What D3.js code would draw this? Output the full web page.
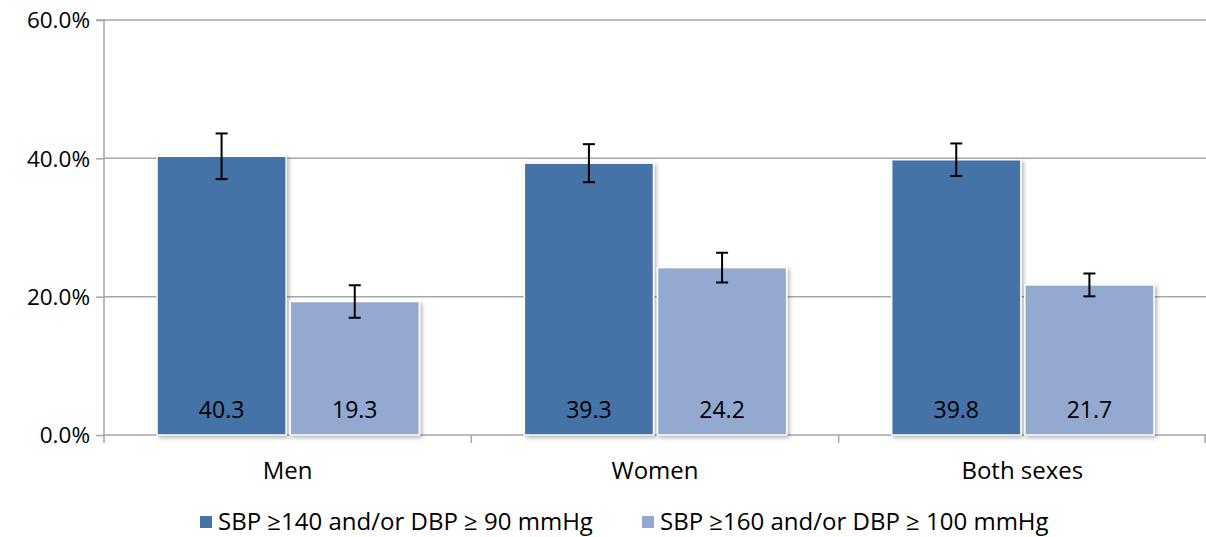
<!DOCTYPE html>
<html><head><meta charset="utf-8">
<script src="https://cdn.jsdelivr.net/npm/d3@7"></script>
<style>body{margin:0;background:#fff}svg{display:block}text{font-family:"Open Sans",sans-serif;fill:#000}</style>
</head><body><svg id="c" width="1206" height="537"></svg>
<script>
const categories = ["Men", "Women", "Both sexes"];
const seriesNames = ["SBP \u2265140 and/or DBP \u2265 90 mmHg", "SBP \u2265160 and/or DBP \u2265 100 mmHg"];
const seriesA = [40.3, 39.3, 39.8];
const seriesB = [19.3, 24.2, 21.7];
const errA = [3.3, 2.75, 2.35];
const errB = [2.35, 2.15, 1.65];
const yTicks = [0, 20, 40, 60];
const colors = ["#4572A7", "#93A9CF"];

const svg = d3.select("#c");
const m = {l:104, r:1206, t:20, b:435};
const x0 = d3.scaleBand().domain(categories).range([m.l, m.r]).paddingInner(0).paddingOuter(0);
const x1 = d3.scaleBand().domain([0,1]).range([53, x0.bandwidth()-52]).paddingInner(0.03);
const y = d3.scaleLinear().domain([0,60]).range([m.b, m.t]);

const defs = svg.append("defs");
const f = defs.append("filter").attr("id","sh").attr("x","-10%").attr("y","-10%").attr("width","130%").attr("height","130%");
f.append("feDropShadow").attr("dx",2).attr("dy",2).attr("stdDeviation",2).attr("flood-color","#000").attr("flood-opacity",0.3);

// gridlines
svg.append("g").selectAll("line").data(yTicks.filter(d=>d>0)).join("line")
  .attr("x1",m.l).attr("x2",m.r).attr("y1",d=>y(d)).attr("y2",d=>y(d))
  .attr("stroke","#a6a6a6").attr("stroke-width",1.5);

// y axis
const ya = svg.append("g").attr("transform",`translate(${m.l},0)`)
  .call(d3.axisLeft(y).tickValues(yTicks).tickSize(8).tickPadding(6).tickFormat(d=>d.toFixed(1)+"%"));
ya.select(".domain").attr("stroke","#a6a6a6").attr("stroke-width",1.5).attr("d",`M-8,${m.t}H0V${m.b}`);
ya.selectAll(".tick line").attr("stroke","#a6a6a6").attr("stroke-width",1.5);
ya.selectAll("text").attr("font-size",22.5).attr("fill","#000").style("font-family","'Open Sans',sans-serif").attr("dy","0.35em");

// x axis
const xa = svg.append("g").attr("transform",`translate(0,${m.b})`);
xa.append("line").attr("x1",m.l).attr("x2",m.r).attr("stroke","#a6a6a6").attr("stroke-width",1.5);
xa.selectAll("line.t").data(categories.concat(["end"])).join("line").attr("class","t")
  .attr("x1",(d,i)=>i<categories.length?x0(d):m.r-1).attr("x2",(d,i)=>i<categories.length?x0(d):m.r-1)
  .attr("y1",0).attr("y2",8).attr("stroke","#a6a6a6").attr("stroke-width",1.5);
xa.selectAll("text").data(categories).join("text")
  .attr("x",d=>x0(d)+x0.bandwidth()/2).attr("y",44).attr("text-anchor","middle").attr("font-size",24).text(d=>d);

// bars
const data = categories.map((c,i)=>({c, vals:[{s:0,v:seriesA[i],e:errA[i]},{s:1,v:seriesB[i],e:errB[i]}]}));
const g = svg.append("g").selectAll("g").data(data).join("g").attr("transform",d=>`translate(${x0(d.c)},0)`);
g.selectAll("rect").data(d=>d.vals).join("rect")
  .attr("x",d=>x1(d.s)).attr("width",x1.bandwidth()).attr("y",d=>y(d.v)).attr("height",d=>y(0)-y(d.v))
  .attr("fill",d=>colors[d.s]).attr("stroke","#fff").attr("stroke-width",1.5).attr("filter","url(#sh)");
g.selectAll("text").data(d=>d.vals).join("text")
  .attr("x",d=>x1(d.s)+x1.bandwidth()/2).attr("y",y(0)-17).attr("text-anchor","middle").attr("font-size",23).text(d=>d.v.toFixed(1));
// error bars
const eb = g.selectAll("g.eb").data(d=>d.vals).join("g").attr("class","eb")
  .attr("transform",d=>`translate(${x1(d.s)+x1.bandwidth()/2},0)`);
eb.append("line").attr("y1",d=>y(d.v+d.e)).attr("y2",d=>y(d.v-d.e)).attr("stroke","#000").attr("stroke-width",2);
eb.append("line").attr("x1",-6).attr("x2",6).attr("y1",d=>y(d.v+d.e)).attr("y2",d=>y(d.v+d.e)).attr("stroke","#000").attr("stroke-width",2);
eb.append("line").attr("x1",-6).attr("x2",6).attr("y1",d=>y(d.v-d.e)).attr("y2",d=>y(d.v-d.e)).attr("stroke","#000").attr("stroke-width",2);

// legend
const legX = [200, 642];
const lg = svg.append("g").selectAll("g").data(seriesNames).join("g").attr("transform",(d,i)=>`translate(${legX[i]},516)`);
lg.append("rect").attr("width",12).attr("height",12).attr("fill",(d,i)=>colors[i]);
lg.append("text").attr("x",18).attr("y",6).attr("dy","0.35em").attr("font-size",24).text(d=>d);
</script></body></html>
